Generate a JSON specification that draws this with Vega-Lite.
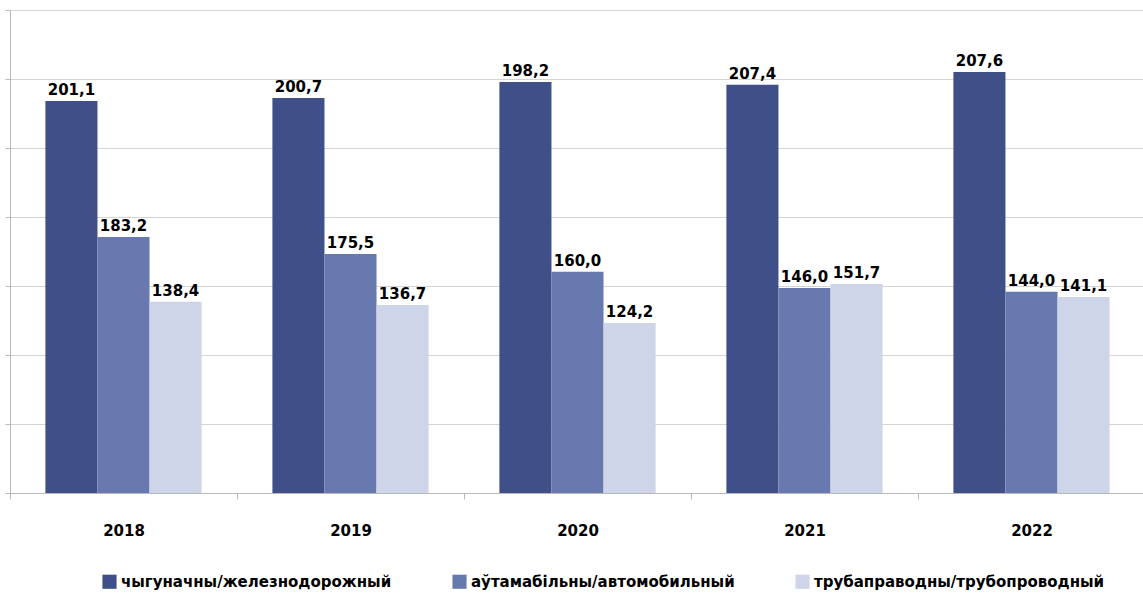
{
  "$schema": "https://vega.github.io/schema/vega-lite/v6.json",
  "autosize": "none",
  "padding": {"left": 10, "top": 10, "right": 0, "bottom": 106},
  "width": 1135,
  "height": 483,
  "background": "white",
  "config": {
    "view": {"stroke": null},
    "font": "DejaVu Sans"
  },
  "data": {
    "values": [
      {"year": "2018", "type": "чыгуначны/железнодорожный", "k": 1, "value": 193.6, "label": "201,1"},
      {"year": "2018", "type": "аўтамабільны/автомобильный", "k": 2, "value": 154.2, "label": "183,2"},
      {"year": "2018", "type": "трубаправодны/трубопроводный", "k": 3, "value": 135.4, "label": "138,4"},
      {"year": "2019", "type": "чыгуначны/железнодорожный", "k": 1, "value": 194.5, "label": "200,7"},
      {"year": "2019", "type": "аўтамабільны/автомобильный", "k": 2, "value": 149.3, "label": "175,5"},
      {"year": "2019", "type": "трубаправодны/трубопроводный", "k": 3, "value": 134.5, "label": "136,7"},
      {"year": "2020", "type": "чыгуначны/железнодорожный", "k": 1, "value": 199.1, "label": "198,2"},
      {"year": "2020", "type": "аўтамабільны/автомобильный", "k": 2, "value": 144.1, "label": "160,0"},
      {"year": "2020", "type": "трубаправодны/трубопроводный", "k": 3, "value": 129.3, "label": "124,2"},
      {"year": "2021", "type": "чыгуначны/железнодорожный", "k": 1, "value": 198.3, "label": "207,4"},
      {"year": "2021", "type": "аўтамабільны/автомобильный", "k": 2, "value": 139.4, "label": "146,0"},
      {"year": "2021", "type": "трубаправодны/трубопроводный", "k": 3, "value": 140.6, "label": "151,7"},
      {"year": "2022", "type": "чыгуначны/железнодорожный", "k": 1, "value": 202.0, "label": "207,6"},
      {"year": "2022", "type": "аўтамабільны/автомобильный", "k": 2, "value": 138.3, "label": "144,0"},
      {"year": "2022", "type": "трубаправодны/трубопроводный", "k": 3, "value": 136.8, "label": "141,1"}
    ]
  },
  "encoding": {
    "x": {
      "field": "year", "type": "nominal",
      "scale": {"paddingInner": 0, "paddingOuter": 0},
      "axis": {
        "title": null, "labelAngle": 0, "labelFont": "DejaVu Sans", "labelFontWeight": "bold",
        "labelFontSize": 15, "labelColor": "#000000", "labelPadding": 24,
        "domainColor": "#b8b8b8", "tickColor": "#b8b8b8", "tickSize": 6,
        "tickBand": "extent", "grid": false
      }
    },
    "xOffset": {"field": "k", "type": "ordinal", "scale": {"paddingOuter": 0.68, "paddingInner": 0}},
    "y": {
      "field": "value", "type": "quantitative",
      "scale": {"domain": [80, 220], "nice": false, "zero": false},
      "axis": {
        "title": null, "labels": false, "values": [80, 100, 120, 140, 160, 180, 200, 220],
        "gridColor": "#d4d4d4", "gridWidth": 1.2, "domainColor": "#b8b8b8",
        "tickColor": "#b8b8b8", "tickSize": 5
      }
    }
  },
  "layer": [
    {
      "mark": {"type": "bar", "clip": true},
      "encoding": {
        "color": {
          "field": "type", "type": "nominal",
          "sort": ["чыгуначны/железнодорожный", "аўтамабільны/автомобильный", "трубаправодны/трубопроводный"],
          "scale": {
            "domain": ["чыгуначны/железнодорожный", "аўтамабільны/автомобильный", "трубаправодны/трубопроводный"],
            "range": ["#3e5087", "#6879b0", "#cfd5e8"]
          },
          "legend": {
            "title": null, "orient": "none", "direction": "horizontal",
            "legendX": 92, "legendY": 564,
            "symbolType": "square", "symbolSize": 200, "symbolStrokeWidth": 0,
            "labelFont": "DejaVu Sans", "labelFontWeight": "bold", "labelFontSize": 15,
            "labelColor": "#000000", "labelLimit": 400, "columnPadding": 60, "labelOffset": 4
          }
        }
      }
    },
    {
      "mark": {"type": "text", "dy": -11, "font": "DejaVu Sans", "fontWeight": "bold", "fontSize": 15, "color": "#000000"},
      "encoding": {"text": {"field": "label"}}
    }
  ]
}
